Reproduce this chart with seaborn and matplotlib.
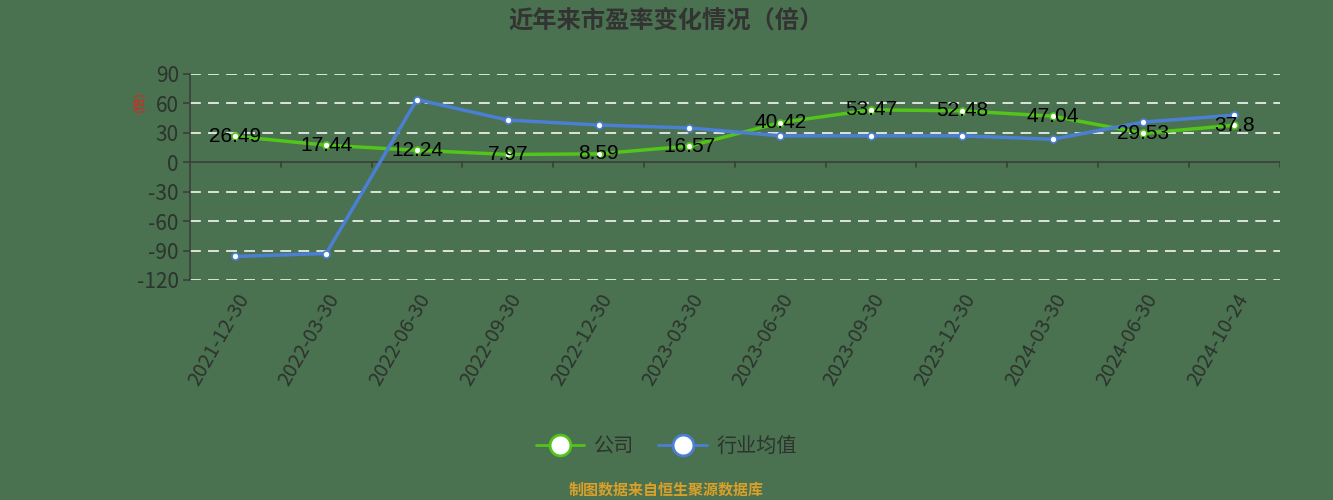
import matplotlib.pyplot as plt
import pandas as pd
import seaborn as sns
from matplotlib.lines import Line2D

# data
dates = ['2021-12-30', '2022-03-30', '2022-06-30', '2022-09-30', '2022-12-30', '2023-03-30',
         '2023-06-30', '2023-09-30', '2023-12-30', '2024-03-30', '2024-06-30', '2024-10-24']
company = [26.49, 17.44, 12.24, 7.97, 8.59, 16.57, 40.42, 53.47, 52.48, 47.04, 29.53, 37.8]
industry = [-96, -93, 64, 43, 38, 35, 27, 27, 27, 23.5, 41, 48]
yticks = [90, 60, 30, 0, -30, -60, -90, -120]

bg = '#4a7150'
green = '#52c41a'
blue = '#4a7fd4'
dark = '#2d332d'

df = pd.DataFrame({
    'date': dates * 2,
    'pe': company + industry,
    'series': ['公司'] * len(dates) + ['行业均值'] * len(dates),
})
df['pos'] = list(range(len(dates))) * 2

sns.set_style('white')
plt.rcParams['font.family'] = ['Noto Sans CJK SC', 'DejaVu Sans']

fig = plt.figure(figsize=(13.33, 5), dpi=100, facecolor=bg)
ax = fig.add_axes([0.1425, 0.44, 0.8175, 0.412])
ax.set_facecolor(bg)

sns.lineplot(data=df, x='pos', y='pe', hue='series', palette={'公司': green, '行业均值': blue},
             marker='o', markersize=5, markerfacecolor='white', markeredgewidth=1.2,
             linewidth=2.5, ax=ax, legend=False, zorder=3)
for ln, c in zip(ax.lines, [green, blue]):
    ln.set_markeredgecolor(c)

for i, v in enumerate(company):
    ax.text(i, v, f'{v:g}', ha='center', va='center', fontsize=15, color='black',
            family=['Liberation Sans'], zorder=5)

ax.set_xlim(-0.5, len(dates) - 0.5)
ax.set_ylim(-120, 90)
ax.set_yticks(yticks)
ax.set_yticklabels([str(t) for t in yticks], fontsize=15, color=dark)
for t in yticks:
    if t != 0:
        ax.axhline(t, color='#e8ece8', linestyle=(0, (6, 4)), linewidth=1.3, zorder=1)

# x axis sits on the zero line; ticks at category boundaries
ax.axhline(0, color='#3a3f3a', linewidth=1.2, zorder=2)
for b in range(1, len(dates) + 1):
    ax.plot([b - 0.5, b - 0.5], [0, -5], color='#3a3f3a', linewidth=1.2, zorder=2)
ax.set_xticks(range(len(dates)))
ax.set_xticklabels(dates, rotation=60, ha='right', rotation_mode='anchor', fontsize=14.5, color=dark)
ax.tick_params(axis='x', length=0, pad=7)
ax.tick_params(axis='y', length=5, color='#3a3f3a', width=1.2, left=True, pad=3)
for s in ['top', 'right', 'bottom']:
    ax.spines[s].set_visible(False)
ax.spines['left'].set_color('#3a3f3a')
ax.spines['left'].set_linewidth(1.2)
ax.set_xlabel('')
ax.set_ylabel('')

fig.text(0.1045, 0.796, '(倍)', color='#e8201a', fontsize=9, rotation=90, ha='center', va='center')
fig.text(0.5, 0.958, '近年来市盈率变化情况（倍）', ha='center', va='center', fontsize=17.5,
         fontweight='bold', color='#333333')

handles = [Line2D([], [], color=c, linewidth=2, marker='o', markersize=15, markerfacecolor='white',
                  markeredgecolor=c, markeredgewidth=2) for c in [green, blue]]
fig.legend(handles, ['公司', '行业均值'], loc='center', bbox_to_anchor=(0.5, 0.107), ncol=2,
           frameon=False, fontsize=14.5, handlelength=2.4, columnspacing=1.2, handletextpad=0.5,
           labelcolor=dark)

fig.text(0.5, 0.02, '制图数据来自恒生聚源数据库', ha='center', va='center', fontsize=10.8,
         color='#d9a02a', fontweight='bold')

fig.savefig('out.png', dpi=100, facecolor=bg)
